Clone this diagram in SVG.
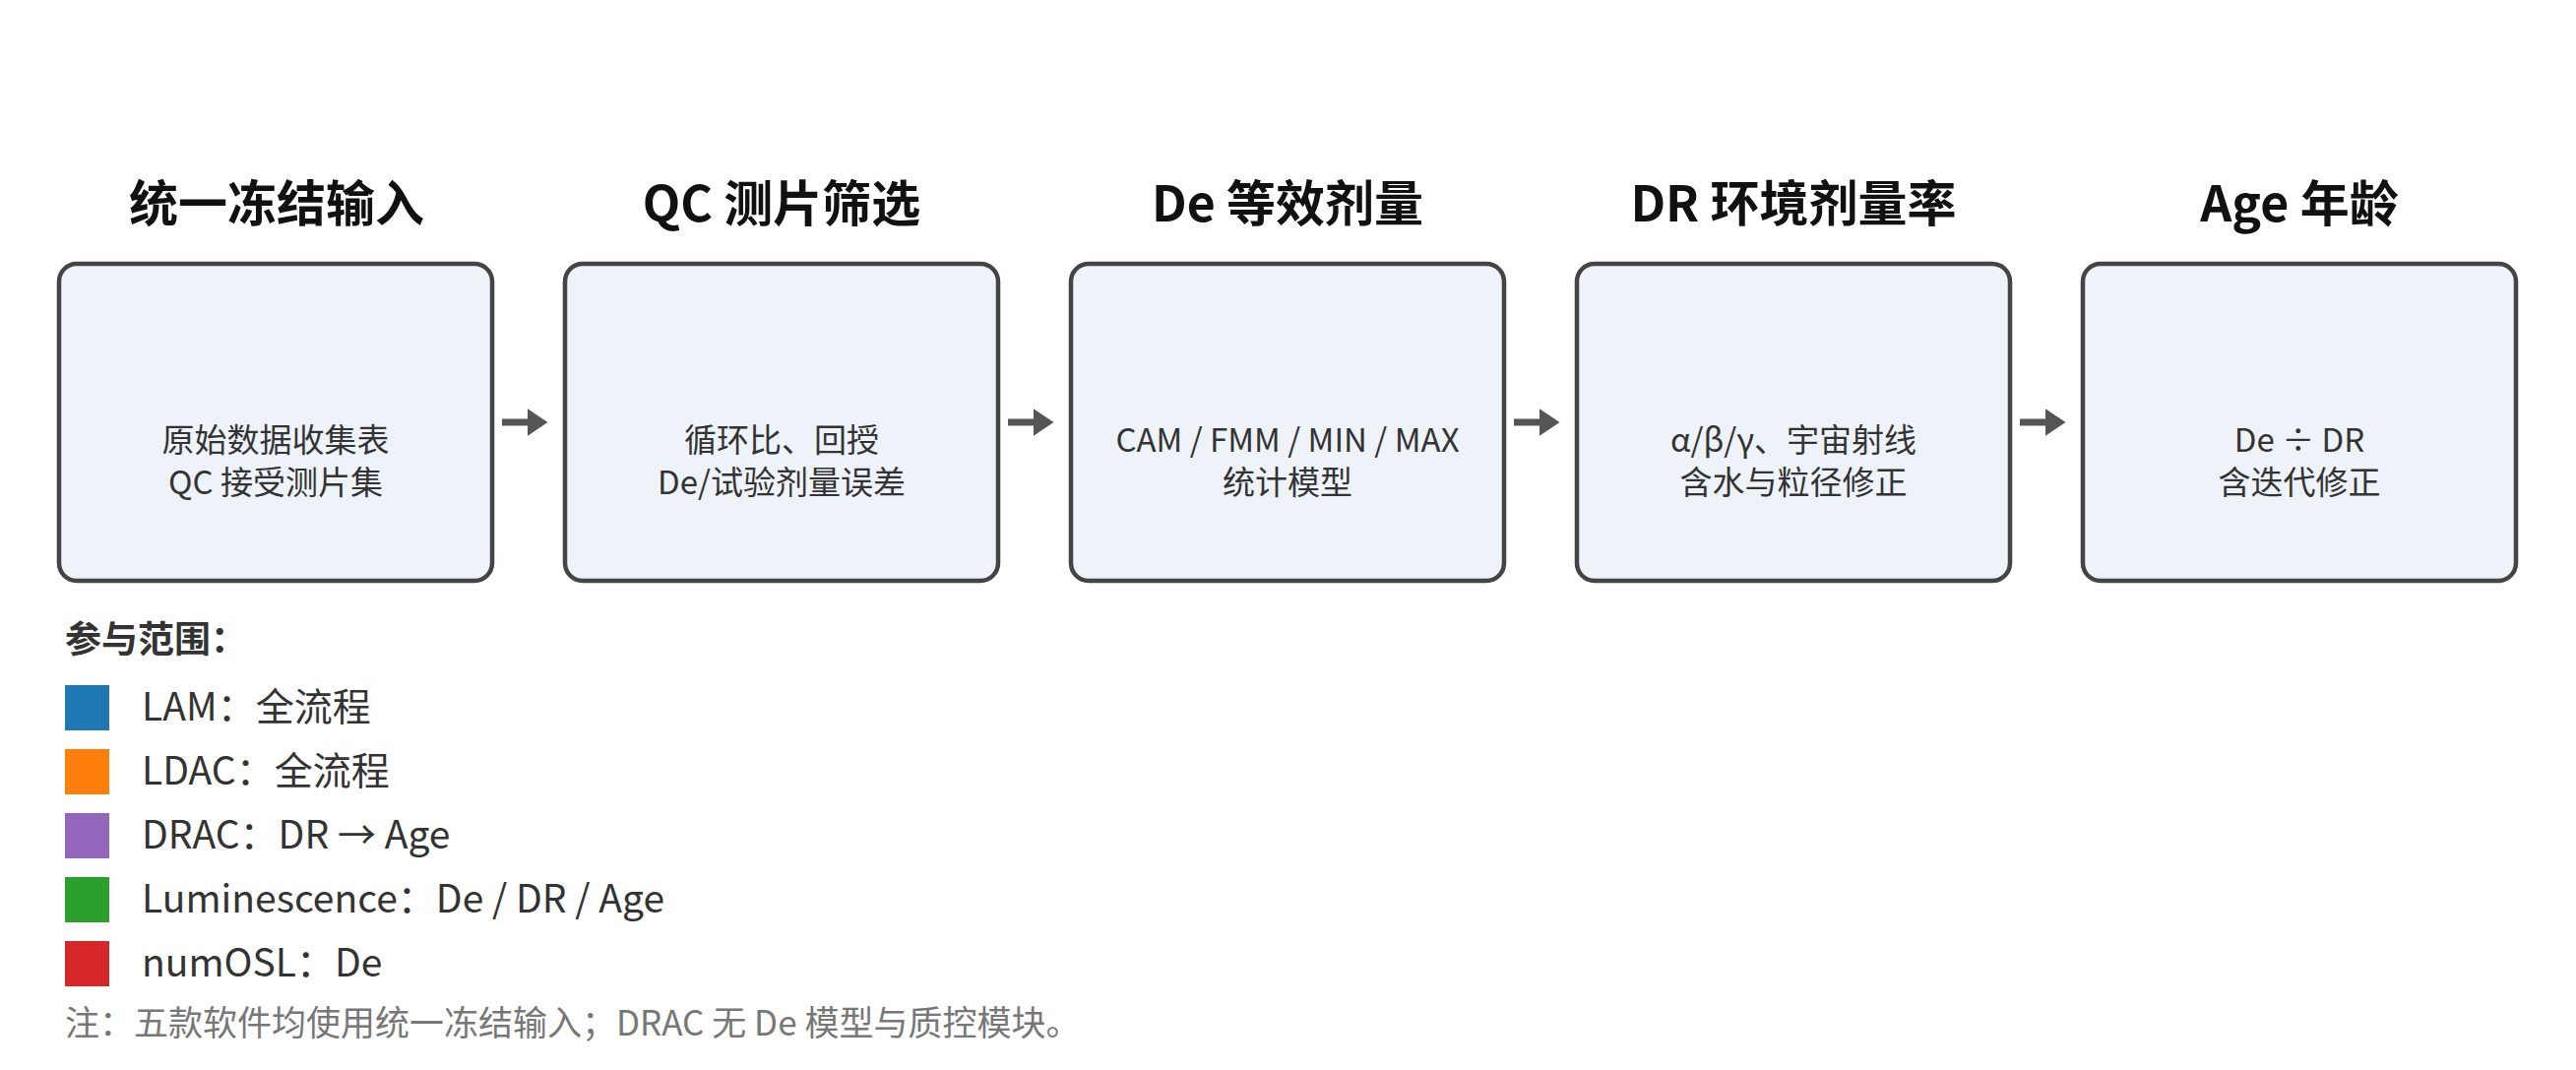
<svg xmlns="http://www.w3.org/2000/svg" width="2617" height="1087" viewBox="0 0 2617 1087">
<style>
text{font-family:"Noto Sans CJK SC","Noto Sans",sans-serif;fill:#333}
.t{font-size:50px;font-weight:bold;text-anchor:middle;fill:#111}
.b{fill:#EEF2F9;stroke:#444;stroke-width:4.5}
.l{font-size:33px;text-anchor:middle}
.g{font-size:39px}
.c{stroke:#555;stroke-width:7;fill:none}
</style>
<defs><marker id="ah" markerWidth="4" markerHeight="4" refX="1.5" refY="2" orient="auto" markerUnits="strokeWidth"><path d="M0,0 L3,2 L0,4 z" fill="#555"/></marker></defs>
<rect width="2617" height="1087" fill="#fff"/>
<g id="n1"><text class="t" x="281" y="225">统一冻结输入</text><rect class="b" x="60" y="268" width="440" height="322" rx="18"/><text class="l" x="280" y="459">原始数据收集表</text><text class="l" x="280" y="502">QC 接受测片集</text></g>
<g id="n2"><text class="t" x="794" y="225">QC 测片筛选</text><rect class="b" x="574" y="268" width="440" height="322" rx="18"/><text class="l" x="794" y="459">循环比、回授</text><text class="l" x="794" y="502">De/试验剂量误差</text></g>
<g id="n3"><text class="t" x="1308" y="225">De 等效剂量</text><rect class="b" x="1088" y="268" width="440" height="322" rx="18"/><text class="l" x="1308" y="459">CAM / FMM / MIN / MAX</text><text class="l" x="1308" y="502">统计模型</text></g>
<g id="n4"><text class="t" x="1822" y="225">DR 环境剂量率</text><rect class="b" x="1602" y="268" width="440" height="322" rx="18"/><text class="l" x="1822" y="459">α/β/γ、宇宙射线</text><text class="l" x="1822" y="502">含水与粒径修正</text></g>
<g id="n5"><text class="t" x="2336" y="225">Age 年龄</text><rect class="b" x="2116" y="268" width="440" height="322" rx="18"/><text class="l" x="2336" y="459">De ÷ DR</text><text class="l" x="2336" y="502">含迭代修正</text></g>
<g id="connectors">
<line class="c" x1="510" y1="429" x2="546" y2="429" marker-end="url(#ah)"/>
<line class="c" x1="1024" y1="429" x2="1060" y2="429" marker-end="url(#ah)"/>
<line class="c" x1="1538" y1="429" x2="1574" y2="429" marker-end="url(#ah)"/>
<line class="c" x1="2052" y1="429" x2="2088" y2="429" marker-end="url(#ah)"/>
</g>
<g id="legend">
<text x="66" y="663" style="font-size:37px;font-weight:bold">参与范围：</text>
<rect x="66" y="696" width="45" height="46" fill="#1F77B4"/><text class="g" x="144" y="732">LAM：全流程</text>
<rect x="66" y="761" width="45" height="46" fill="#FF7F0E"/><text class="g" x="144" y="797">LDAC：全流程</text>
<rect x="66" y="826" width="45" height="46" fill="#9467BD"/><text class="g" x="144" y="862">DRAC：DR → Age</text>
<rect x="66" y="891" width="45" height="46" fill="#2CA02C"/><text class="g" x="144" y="927">Luminescence：De / DR / Age</text>
<rect x="66" y="956" width="45" height="46" fill="#D62728"/><text class="g" x="144" y="992">numOSL：De</text>
<text x="66" y="1052" style="font-size:35px;fill:#777">注：五款软件均使用统一冻结输入；DRAC 无 De 模型与质控模块。</text>
</g>
</svg>
